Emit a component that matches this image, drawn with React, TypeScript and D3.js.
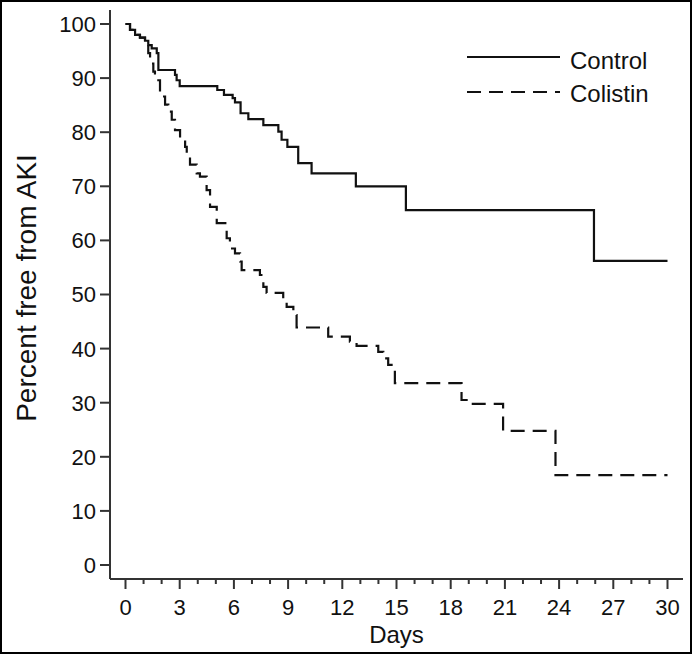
import React from "react";
import * as d3 from "d3";

const xTicks = [0, 3, 6, 9, 12, 15, 18, 21, 24, 27, 30];
const yTicks = [0, 10, 20, 30, 40, 50, 60, 70, 80, 90, 100];

const controlDays = [0, 0.25, 0.53, 0.8, 1.08, 1.26, 1.45, 1.73, 1.82, 2.74, 2.83, 3.0, 5.08, 5.45, 5.93, 6.06, 6.37, 6.8, 7.63, 8.46, 8.64, 8.96, 9.56, 10.3, 12.75, 15.52, 25.93, 30];
const controlSurv = [100, 98.9, 98.0, 97.5, 96.9, 96.1, 95.5, 94.6, 91.5, 90.6, 89.6, 88.5, 87.8, 86.9, 86.3, 85.5, 83.5, 82.4, 81.3, 80.1, 78.6, 77.3, 74.3, 72.4, 70.0, 65.6, 56.2, 56.2];

const colistinDays = [0, 0.25, 0.53, 0.8, 1.08, 1.26, 1.36, 1.54, 1.63, 1.91, 2.19, 2.37, 2.56, 2.74, 3.02, 3.3, 3.39, 3.57, 3.94, 4.12, 4.49, 4.68, 5.05, 5.6, 5.78, 6.06, 6.34, 6.43, 7.44, 7.63, 7.81, 8.73, 8.92, 9.29, 9.47, 11.22, 12.42, 12.79, 13.99, 14.27, 14.54, 14.82, 14.91, 18.6, 18.88, 20.9, 23.8, 30];
const colistinSurv = [100, 98.9, 98.0, 97.5, 96.9, 94.6, 92.7, 91.2, 89.6, 86.6, 85.1, 83.8, 82.3, 80.4, 78.6, 77.3, 75.8, 74.0, 72.4, 71.8, 69.3, 66.2, 63.2, 60.4, 58.5, 57.6, 56.1, 54.5, 53.6, 51.4, 50.3, 49.0, 47.7, 46.2, 43.9, 42.2, 41.3, 40.5, 39.4, 38.2, 37.0, 36.0, 33.6, 30.5, 29.8, 24.8, 16.6, 16.6];

const seriesNames = ["Control", "Colistin"];

const W = 693;
const H = 655;
const FONT = "Liberation Sans, Arial, Helvetica, sans-serif";

export default function App() {
  const x = d3.scaleLinear().domain([0, 30]).range([125.5, 667.5]);
  const y = d3.scaleLinear().domain([0, 100]).range([565, 24]);
  const axisX = 110;
  const axisY = 579;

  const line = d3
    .line<[number, number]>()
    .x((d) => x(d[0]))
    .y((d) => y(d[1]))
    .curve(d3.curveStepAfter);

  const controlPts = controlDays.map((d, i) => [d, controlSurv[i]] as [number, number]);
  const colistinPts = colistinDays.map((d, i) => [d, colistinSurv[i]] as [number, number]);

  const minorDays = d3.range(0, 31);

  return (
    <svg width={W} height={H} style={{ position: "absolute", left: 0, top: 0, background: "#fff" }}>
      <rect x={1} y={1} width={W - 3} height={H - 3} fill="#fff" stroke="#000" strokeWidth={2} />
      {/* axes */}
      <line x1={axisX} x2={axisX} y1={10} y2={axisY} stroke="#333" strokeWidth={2} />
      <line x1={axisX} x2={683} y1={axisY} y2={axisY} stroke="#333" strokeWidth={2} />
      {yTicks.map((t) => (
        <g key={"y" + t}>
          <line x1={axisX - 10} x2={axisX} y1={y(t)} y2={y(t)} stroke="#333" strokeWidth={2} />
          <text x={axisX - 14} y={y(t)} dy="0.36em" textAnchor="end" fontFamily={FONT} fontSize={22} fill="#111">
            {t}
          </text>
        </g>
      ))}
      {minorDays.map((d) => (
        <line key={"m" + d} x1={x(d)} x2={x(d)} y1={axisY} y2={axisY + (d % 3 === 0 ? 10 : 5)} stroke="#333" strokeWidth={2} />
      ))}
      {xTicks.map((t) => (
        <text key={"x" + t} x={x(t)} y={607} dy="0.36em" textAnchor="middle" fontFamily={FONT} fontSize={22} fill="#111">
          {t}
        </text>
      ))}
      <text x={(x(0) + x(30)) / 2} y={634} dy="0.36em" textAnchor="middle" fontFamily={FONT} fontSize={24} fill="#111">
        Days
      </text>
      <text
        transform={`translate(26,288) rotate(-90)`}
        dy="0.36em"
        textAnchor="middle"
        fontFamily={FONT}
        fontSize={28}
        fill="#111"
      >
        Percent free from AKI
      </text>
      {/* curves */}
      <path d={line(controlPts) || ""} fill="none" stroke="#111" strokeWidth={2.2} />
      <path d={line(colistinPts) || ""} fill="none" stroke="#111" strokeWidth={2.2} strokeDasharray="14,8" />
      {/* legend */}
      <line x1={467} x2={560} y1={57} y2={57} stroke="#111" strokeWidth={2.2} />
      <text x={570} y={60} dy="0.36em" fontFamily={FONT} fontSize={24} fill="#111">
        {seriesNames[0]}
      </text>
      <line x1={467} x2={560} y1={92} y2={92} stroke="#111" strokeWidth={2.2} strokeDasharray="14,8" />
      <text x={570} y={93} dy="0.36em" fontFamily={FONT} fontSize={24} fill="#111">
        {seriesNames[1]}
      </text>
    </svg>
  );
}
